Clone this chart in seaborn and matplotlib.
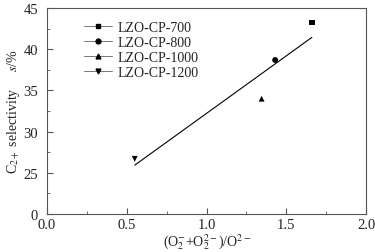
import matplotlib
matplotlib.use('Agg')
import matplotlib.pyplot as plt
import seaborn as sns
import pandas as pd
from matplotlib.lines import Line2D
from matplotlib.ticker import MultipleLocator

# values
samples = ['LZO-CP-700', 'LZO-CP-800', 'LZO-CP-1000', 'LZO-CP-1200']
ratio = [1.66, 1.43, 1.345, 0.55]          # (O2- + O2 2-)/O2-
selectivity = [43.25, 38.7, 34.0, 26.7]    # C2+ selectivity, %
markers = ['s', 'o', '^', 'v']

# y axis is broken: the bottom tick reads 0 but sits where 20 would be
y_ticks = [20, 25, 30, 35, 40, 45]
y_tick_labels = ['0', '25', '30', '35', '40', '45']

df = pd.DataFrame({'sample': samples, 'ratio': ratio, 'sel': selectivity})

sns.set_style('ticks')
plt.rcParams['font.family'] = 'serif'
plt.rcParams['font.serif'] = ['Liberation Serif']
plt.rcParams['mathtext.fontset'] = 'stix'

fig = plt.figure(figsize=(3.75, 2.53), dpi=100)
ax = fig.add_axes([0.1253, 0.150, 0.851, 0.814])

sns.regplot(data=df, x='ratio', y='sel', ax=ax, scatter=False, ci=None,
            truncate=True, line_kws={'color': 'black', 'lw': 0.8})
sns.scatterplot(data=df, x='ratio', y='sel', hue='sample', style='sample',
                markers=dict(zip(samples, markers)),
                palette=['black'] * 4, s=18, edgecolor='none', ax=ax,
                legend=False)

ax.set_xlim(0, 2.0)
ax.set_ylim(20, 45)
ax.set_yticks(y_ticks)
ax.set_yticklabels(y_tick_labels)
ax.xaxis.set_major_locator(MultipleLocator(0.5))
ax.xaxis.set_minor_locator(MultipleLocator(0.25))
ax.yaxis.set_minor_locator(MultipleLocator(2.5))
ax.tick_params(which='both', direction='in', labelsize=10.5, color='#555555',
               labelcolor='#222222', top=False, right=False)
ax.tick_params(axis='x', pad=2.5)
ax.tick_params(axis='y', pad=6.5)
ax.tick_params(which='major', length=4)
ax.tick_params(which='minor', length=2.5)
for sp in ax.spines.values():
    sp.set_linewidth(0.8)
    sp.set_color('#555555')

ax.set_xlabel(r'(O$_2^{-}$+O$_2^{2-}$)/O$^{2-}$', fontsize=10, labelpad=1,
              color='#222222')
ax.set_ylabel(r'C$_{2+}$ selectivity     $s$/%', fontsize=10, labelpad=1,
              color='#222222')

handles = [Line2D([0], [0], color='#777777', lw=0.7, marker=m, markersize=3.5,
                  markerfacecolor='black', markeredgecolor='black')
           for m in markers]
leg = ax.legend(handles, samples, loc='upper left', bbox_to_anchor=(0.1, 0.965),
                frameon=False, fontsize=10, handlelength=2.0, handletextpad=0.4,
                labelspacing=0.15, borderaxespad=0)
for t in leg.get_texts():
    t.set_color('#222222')

fig.savefig('out.png', dpi=100)
